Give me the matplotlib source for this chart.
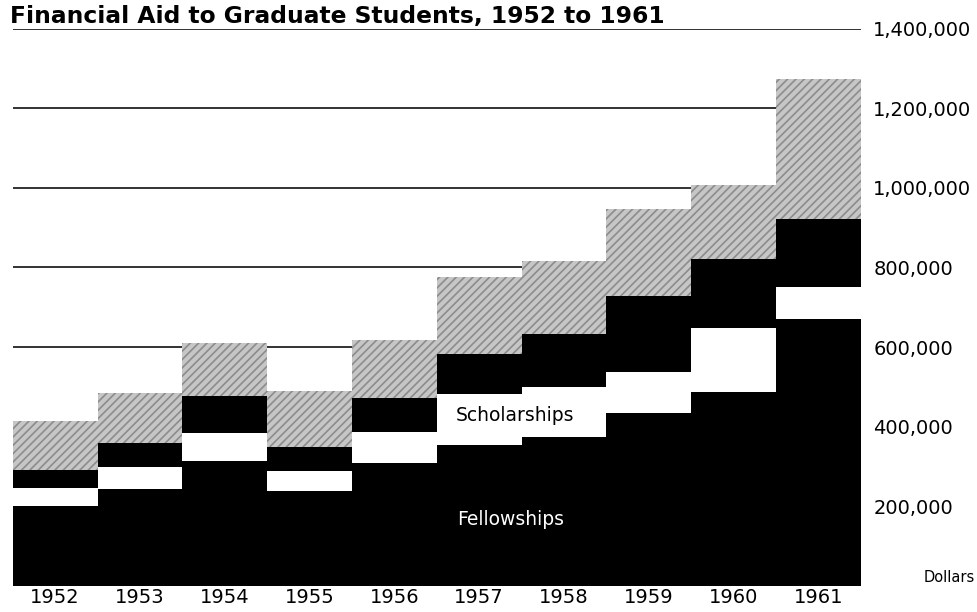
import numpy as np
import matplotlib
matplotlib.use("Agg")
import matplotlib.pyplot as plt

plt.rcParams['font.family'] = ['DejaVu Sans']
plt.rcParams['hatch.linewidth'] = 1.2

# values, in thousands of dollars
years = ["1952", "1953", "1954", "1955", "1956", "1957", "1958", "1959", "1960", "1961"]
fellowships = [201, 243, 314, 237, 309, 354, 373, 434, 488, 671]
scholarships = [45, 56, 70, 52, 78, 128, 127, 103, 161, 81]
third_layer = [44, 59, 94, 59, 85, 100, 132, 190, 171, 171]
top_layer = [123, 126, 131, 141, 146, 193, 183, 220, 187, 350]
y_ticks = [200000, 400000, 600000, 800000, 1000000, 1200000, 1400000]
tick_labels = ["200,000", "400,000", "600,000", "800,000", "1,000,000", "1,200,000", "1,400,000"]

fig = plt.figure(figsize=(9.77, 6.12), dpi=100)
ax = fig.add_axes([0.013, 0.043, 0.868, 0.910])

x = np.arange(len(years))
f = np.array(fellowships) * 1000
s = np.array(scholarships) * 1000
t = np.array(third_layer) * 1000
h = np.array(top_layer) * 1000

for yv in y_ticks:
    ax.axhline(yv, color="#222222", linewidth=1.3, zorder=1)

ax.bar(x, f, width=1.0, color="black", linewidth=0, zorder=2)
ax.bar(x, s, width=1.0, bottom=f, color="white", linewidth=0, zorder=2)
ax.bar(x, t, width=1.0, bottom=f + s, color="black", linewidth=0, zorder=2)
ax.bar(x, h, width=1.0, bottom=f + s + t, color="#c6c6c6", edgecolor="#8c8c8c",
       hatch="////", linewidth=0, zorder=2)

ax.text(5.42, 427000, "Scholarships", color="black", fontsize=13.5,
        ha="center", va="center", zorder=3)
ax.text(5.37, 166000, "Fellowships", color="white", fontsize=13.5,
        ha="center", va="center", zorder=3)

ax.set_xlim(-0.5, len(years) - 0.5)
ax.set_ylim(0, 1400000)
ax.set_xticks(x)
ax.set_xticklabels(years, fontsize=14)
ax.yaxis.tick_right()
ax.set_yticks(y_ticks)
ax.set_yticklabels(tick_labels, fontsize=14)
ax.tick_params(axis="both", length=0)
ax.tick_params(axis="x", pad=2)
ax.tick_params(axis="y", pad=9)
for sp in ax.spines.values():
    sp.set_visible(False)

fig.text(0.010, 0.962, "Financial Aid to Graduate Students, 1952 to 1961",
         fontsize=16.8, fontweight="bold", ha="left", va="baseline")
fig.text(0.998, 0.057, "Dollars", fontsize=10.5, ha="right", va="center")

fig.savefig("out.png", dpi=100)
